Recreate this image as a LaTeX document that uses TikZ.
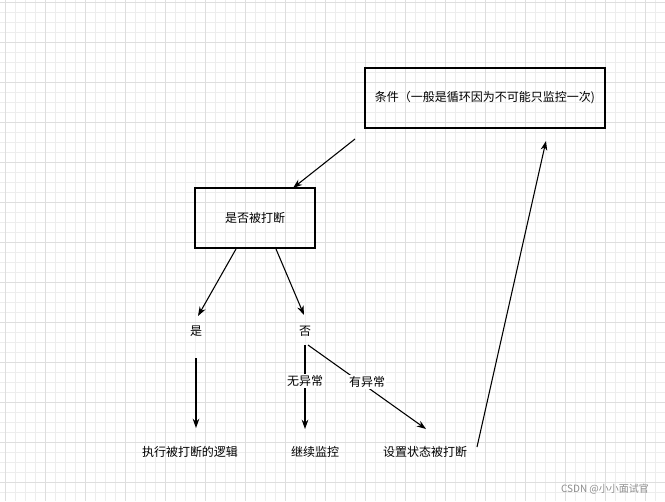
\documentclass[tikz,border=0pt]{standalone}
\usepackage{fontspec}
\setmainfont{Noto Sans CJK SC}
\usetikzlibrary{arrows.meta}
\begin{document}
\begin{tikzpicture}[x=0.75pt,y=-0.75pt,font=\fontsize{9pt}{11pt}\selectfont,
 box/.style={draw,line width=0.8pt,minimum width=90pt,minimum height=45pt,inner sep=0},
 box2/.style={draw,line width=0.8pt,minimum width=180pt,minimum height=45pt,inner sep=0},
 txt/.style={inner sep=1pt},
 lbl/.style={fill=white,inner sep=1pt},
 arr/.style={-{Stealth[length=7pt,width=5pt]},line width=0.8pt}]
\useasboundingbox (0,0) rectangle (665,501);
\fill[white] (0,0) rectangle (665,501);
\foreach \x in {5,15,...,665} \draw[black!7,line width=0.4pt] (\x,0) -- (\x,501);
\foreach \y in {2,12,...,501} \draw[black!7,line width=0.4pt] (0,\y) -- (665,\y);
\foreach \x in {5,45,...,665} \draw[black!13,line width=0.5pt] (\x,0) -- (\x,501);
\foreach \y in {2,42,...,501} \draw[black!13,line width=0.5pt] (0,\y) -- (665,\y);
\node[box2] (c) at (485,98) {条件（一般是循环因为不可能只监控一次)};
\node[box] (q) at (255,218) {是否被打断};
\node[txt] (y) at (196,331) {是};
\node[txt] (n) at (305,331) {否};
\node[txt] (e) at (190,452) {执行被打断的逻辑};
\node[txt] (k) at (315,452) {继续监控};
\node[txt] (s) at (425,452) {设置状态被打断};
\coordinate (c1) at (355,139); \coordinate (q1) at (293,188);
\coordinate (q2) at (236,249); \coordinate (y1) at (198,316);
\coordinate (q3) at (276,249); \coordinate (n1) at (304,315);
\coordinate (y2) at (196,358); \coordinate (e1) at (196,428);
\coordinate (n2) at (305,345); \coordinate (k1) at (305,429);
\coordinate (n3) at (308,345); \coordinate (s1) at (426,429);
\coordinate (s2) at (477,447); \coordinate (c2) at (546,141);
\draw[arr] (c1) -- (q1);
\draw[arr] (q2) -- (y1);
\draw[arr] (q3) -- (n1);
\draw[arr] (y2) -- (e1);
\draw[arr] (n2) -- (k1);
\draw[arr] (n3) -- (s1);
\draw[arr] (s2) -- (c2);
\node[lbl] at (305,381) {无异常};
\node[lbl] at (367,382) {有异常};
\node[text=black!45,font=\fontsize{7.5pt}{9pt}\selectfont] at (605,489) {CSDN @小小面试官};
\end{tikzpicture}
\end{document}
